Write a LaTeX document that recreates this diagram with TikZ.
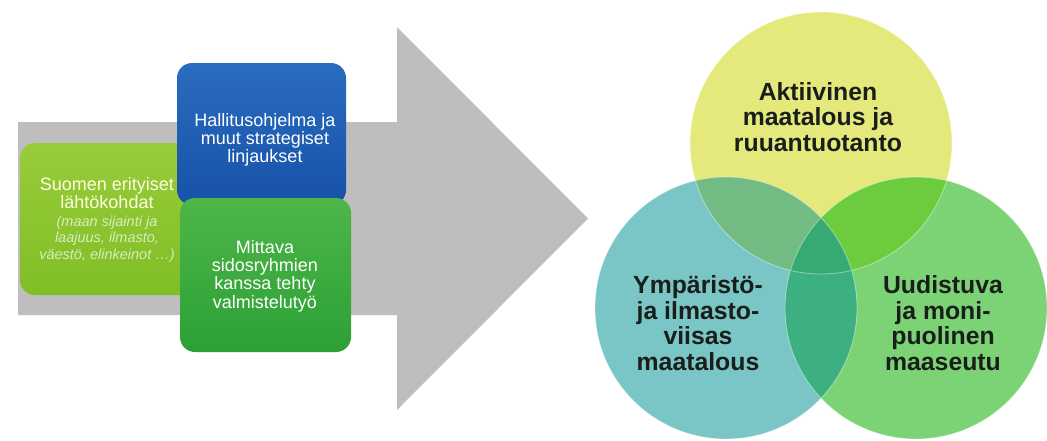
\documentclass[tikz,border=0pt]{standalone}
\usepackage{fontspec}
\setmainfont{Liberation Sans}
\usetikzlibrary{positioning}

\definecolor{arrowgray}{RGB}{190,190,190}
\definecolor{lgreentop}{RGB}{152,204,58}
\definecolor{lgreenbot}{RGB}{128,190,38}
\definecolor{bluetop}{RGB}{42,108,192}
\definecolor{bluebot}{RGB}{22,82,168}
\definecolor{greentop}{RGB}{78,182,72}
\definecolor{greenbot}{RGB}{44,160,54}
\definecolor{yellowc}{RGB}{229,233,124}
\definecolor{tealc}{RGB}{122,197,197}
\definecolor{greenc}{RGB}{124,211,118}
\definecolor{ytc}{RGB}{114,188,132}
\definecolor{ygc}{RGB}{108,204,62}
\definecolor{tgc}{RGB}{60,176,128}
\definecolor{ytgc}{RGB}{54,170,114}
\definecolor{circtxt}{RGB}{26,30,26}

\newcommand\smallit{\itshape\fontsize{14.5}{16.5}\selectfont\color{white!70!lgreenbot}}

\begin{document}
\begin{tikzpicture}[%
	x=1pt,y=-1pt,
	every text node part/.style={align=center},
	box/.style={%
		rectangle,
		rounded corners=15pt,
		inner sep=0pt
	},
	boxtext/.style={%
		text=white,
		font=\fontsize{18}{18.3}\selectfont
	},
	circtext/.style={%
		text=circtxt,
		font=\bfseries\fontsize{24.8}{25.5}\selectfont
	},
	venn/.style={%
		draw=white,
		draw opacity=0.45,
		line width=0.8pt
	}
	]
	\useasboundingbox (0,0) rectangle (1047,440);

	% gray arrow
	\fill[arrowgray] (18,122) -- (397,122) -- (397,27) -- (588,218.5) -- (397,410) -- (397,315) -- (18,315) -- cycle;

	% boxes
	\node[box, minimum width=174pt, minimum height=152pt, top color=lgreentop, bottom color=lgreenbot] (lahto) at (107,219) {};
	\node[box, minimum width=169pt, minimum height=142pt, top color=bluetop, bottom color=bluebot] (hallitus) at (261.5,134) {};
	\node[box, minimum width=171pt, minimum height=154pt, top color=greentop, bottom color=greenbot] (mittava) at (265.5,275) {};

	\node[boxtext, text=white!88!yellow, font=\fontsize{18}{16.5}\selectfont] (lahto-txt) at (107,220) {Suomen erityiset\\lähtökohdat\\[1pt]
		\smallit (maan sijainti ja\\ \smallit laajuus, ilmasto,\\ \smallit väestö, elinkeinot …)};
	\node[boxtext] (hallitus-txt) at (265,140) {Hallitusohjelma ja\\muut strategiset\\linjaukset};
	\node[boxtext] (mittava-txt) at (265,276) {Mittava\\sidosryhmien\\kanssa tehty\\valmistelutyö};

	% circles
	\coordinate (ay) at (821,143);
	\coordinate (ty) at (726,308);
	\coordinate (gy) at (916,308);
	\fill[yellowc] (ay) circle (131pt);
	\fill[tealc] (ty) circle (131pt);
	\fill[greenc] (gy) circle (131pt);
	\begin{scope}
		\clip (ay) circle (131pt);
		\fill[ytc] (ty) circle (131pt);
		\fill[ygc] (gy) circle (131pt);
	\end{scope}
	\begin{scope}
		\clip (ty) circle (131pt);
		\fill[tgc] (gy) circle (131pt);
		\clip (gy) circle (131pt);
		\fill[ytgc] (ay) circle (131pt);
	\end{scope}
	\draw[venn] (ay) circle (131pt) (ty) circle (131pt) (gy) circle (131pt);

	\node[circtext] (aktiivinen) at (818,117) {Aktiivinen\\maatalous ja\\ruuantuotanto};
	\node[circtext] (ymparisto) at (698,323) {Ympäristö-\\ja ilmasto-\\viisas\\maatalous};
	\node[circtext] (uudistuva) at (943,323) {Uudistuva\\ja moni-\\puolinen\\maaseutu};
\end{tikzpicture}
\end{document}
